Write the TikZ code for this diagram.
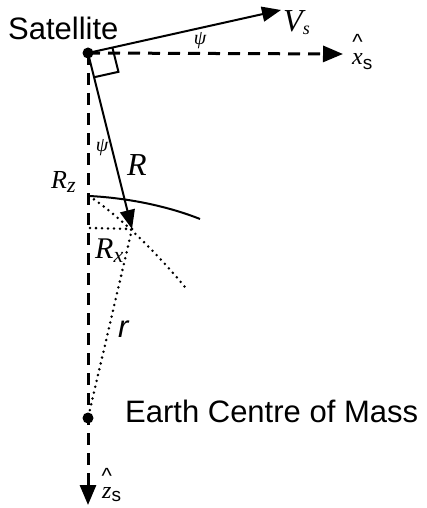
\documentclass[tikz,border=0pt]{standalone}
\usepackage{fontspec}
\setmainfont{Liberation Serif}
\setsansfont{Liberation Sans}
\usetikzlibrary{arrows.meta, positioning, calc}

% unit vector letter with a hat and a sans subscript
\newcommand{\unitvec}[1]{\ooalign{#1\cr\hidewidth\raisebox{15pt}{\fontsize{22}{24}\selectfont\sffamily\upshape\string^}\hidewidth\cr}}

\begin{document}
\begin{tikzpicture}[x=1pt, y=-1pt,
    vec/.style={line width=2pt, -{Triangle[length=19pt,width=15pt]}},
    axis/.style={line width=3pt, dash pattern=on 12pt off 8pt, -{Triangle[length=20pt,width=16pt]}},
    dots/.style={line width=2.8pt, line cap=round, dash pattern=on 0pt off 6pt},
    dot/.style={circle, fill, inner sep=0pt, minimum size=11pt},
    lbl/.style={inner sep=0pt, anchor=base west, font=\fontsize{31}{36}\selectfont\sffamily},
    sym/.style={inner sep=0pt, anchor=base west, font=\fontsize{32}{36}\selectfont\itshape},
    ang/.style={inner sep=0pt, font=\fontsize{20}{24}\selectfont\itshape}]
    \useasboundingbox (0,0) rectangle (426,508);

    % Satellite and Earth centre
    \node[dot] (sat) at (88,53) {};
    \node[dot] (earth) at (88,418) {};
    \coordinate (vs) at (281,10);
    \coordinate (xs) at (343,54);
    \coordinate (zs) at (88,505);
    \coordinate (rtip) at (132,229);
    \coordinate (rz) at (89,196);
    \coordinate (rx) at (90,228);
    \coordinate (arcend) at (200,219);
    \coordinate (dotend) at (185,287);

    % axes x_s and z_s
    \draw[axis] (sat.center) -- (xs);
    \draw[axis] (sat.center) -- (zs);

    % velocity and range
    \draw[vec] (sat.center) -- (vs);
    \draw[vec] (sat.center) -- (rtip);

    % right angle between V_s and R
    \coordinate (q1) at ($(sat.center)!25pt!(vs)$);
    \coordinate (q3) at ($(sat.center)!25pt!(rtip)$);
    \draw[line width=2pt] (q1) -- ($(q1)+(q3)-(sat.center)$) -- (q3);

    % surface arc
    \draw[line width=2pt] (rz) .. controls (130,198) and (170,207) .. (arcend);

    % dotted helpers
    \draw[dots] (rz) .. controls (115,213) and (150,245) .. (dotend);
    \draw[dots] (rx) -- (rtip);
    \draw[dots] (rtip) -- (earth.center);

    % labels
    \node[lbl] (satlab) at (8,40) {Satellite};
    \node[lbl] (earthlab) at (125,422) {Earth Centre of Mass};
    \node[sym] (vlab) at (283,32) {V\raisebox{-3pt}{\fontsize{18}{20}\selectfont s}};
    \node[sym] (rlab) at (127,175) {R};
    \node[sym, font=\fontsize{26}{30}\selectfont\itshape] (rzlab) at (51,188) {R\raisebox{-4pt}{\fontsize{22}{24}\selectfont z}};
    \node[sym, font=\fontsize{30}{34}\selectfont\itshape] (rxlab) at (95,258) {R\raisebox{-4pt}{\fontsize{22}{24}\selectfont x}};
    \node[lbl, font=\fontsize{31}{36}\selectfont\sffamily\itshape] (rlab2) at (118,337) {r};
    \node[ang] (psi1) at (200,41) {ψ};
    \node[ang] (psi2) at (102,148) {ψ};

    % unit vector labels
    \node[sym, font=\fontsize{24}{26}\selectfont\itshape] (xlab) at (352,65) {\unitvec{x}\raisebox{-5pt}{\fontsize{19}{22}\selectfont\sffamily\upshape s}};
    \node[sym, font=\fontsize{24}{26}\selectfont\itshape] (zlab) at (102,498) {\unitvec{z}\raisebox{-3pt}{\fontsize{19}{22}\selectfont\sffamily\upshape s}};
\end{tikzpicture}
\end{document}
